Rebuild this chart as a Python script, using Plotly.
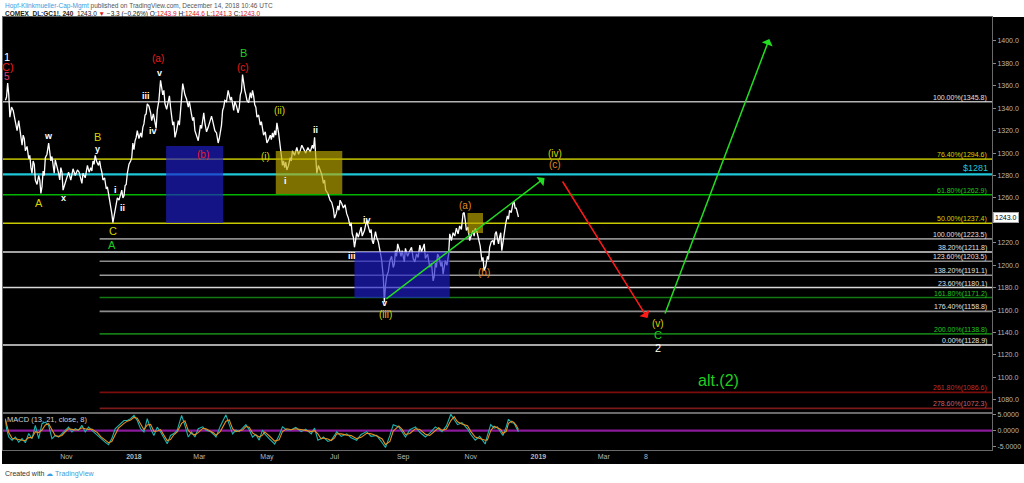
import pandas as pd
import plotly.graph_objects as go

BASE = pd.Timestamp("2017-09-07")

# ---------------- data ----------------
price_day = [0,2,4,7,9,12,14,16,18,21,23,25,27,30,32,34,36,39,41,43,
             45,48,50,52,55,59,61,65,68,70,74,77,79,81,84,86,88,91,93,95,
             96,97,99,101,104,106,108,110,113,115,117,119,122,124,126,128,131,132,135,137,
             140,142,144,147,149,151,153,156,158,160,162,165,167,169,171,174,176,178,180,183,
             185,187,189,192,194,196,198,201,203,205,207,210,212,214,216,218,221,223,225,227,
             230,232,233,236,239,241,243,245,248,250,252,254,257,259,263,266,269,273,277,279,
             281,284,287,289,293,296,297,300,302,305,308,311,313,315,317,320,322,326,329,331,
             333,335,338,341,342,344,347,350,352,354,357,359,361,365,368,371,374,377,379,383,
             386,388,390,393,395,397,400,401,404,407,410,413,414,416,419,422,424,427,430,432,
             435,437,440,442,444,446,448,450,453,455,458,460,461,463]
price_close = [1347.2,1362.4,1332,1338,1325,1329,1311,1316,1302,1295,
               1287,1293,1276,1280,1264,1284,1296,1309,1293,1287,
               1294,1282,1287,1267,1277,1276,1286,1285,1277,1282,
               1289,1287,1293,1298,1289,1287,1276,1268,1264,1253,
               1246,1238,1249,1260,1264,1260,1271,1282,1293,1309,
               1311,1320,1318,1323,1334,1344,1336,1329,1327,1338,
               1365,1352,1344,1347,1341,1325,1314,1329,1336,1362,
               1352,1341,1338,1329,1320,1311,1325,1332,1327,1323,
               1331,1329,1320,1309,1320,1338,1347,1356,1347,1341,
               1346,1336,1352,1370,1356,1347,1354,1356,1343,1332,
               1325,1323,1316,1309,1316,1318,1320,1327,1302,1289,
               1287,1285,1296,1302,1305,1302,1304,1305,1307,1314,
               1282,1285,1273,1267,1258,1250,1242,1253,1258,1251,
               1246,1235,1228,1216,1229,1231,1226,1240,1229,1222,
               1227,1225,1213,1190,1167,1190,1204,1198,1213,1219,
               1208,1207,1215,1213,1206,1210,1218,1216,1206,1198,
               1186,1202,1210,1199,1192,1204,1210,1228,1229,1233,
               1235,1246,1247,1231,1222,1231,1233,1222,1204,1195,
               1208,1216,1222,1228,1224,1225,1213,1231,1244,1249,
               1255,1251,1251,1243]
# intermediate 4h swings read between the points above (day, close)
price_wiggles = [
    (1,1350),(3,1352),(5.5,1341),(8,1333),(10.5,1320),(13,1322),(15,1307),(17,1313),(19.5,1306),(22,1298),
    (24,1282),(26,1290),(28.5,1272),(31,1276),(33,1270),(35,1280),(37.5,1299),(40,1302),(42,1297),(44,1282),
    (46.5,1289),(49,1276),(51,1283),(53.5,1272),(57,1283),(60,1280),(63,1280),(66.5,1283),(69,1273),(72,1278),
    (75.5,1283),(78,1284),(80,1290),(82.5,1292),(85,1293),(87,1283),(89.5,1278),(92,1270),(94,1259),(98,1243),
    (100,1252),(102.5,1258),(105,1267),(107,1262),(109,1272),(111.5,1290),(114,1296),(116,1303),(118,1314),(120.5,1313),
    (123,1314),(125,1326),(127,1335),(129.5,1342),(133.5,1335),(136,1322),(138.5,1347),(141,1356),(143,1356),(145.5,1339),
    (148,1351),(150,1334),(152,1328),(154.5,1320),(157,1325),(159,1345),(161,1357),(163.5,1348),(166,1346),(168,1334),
    (170,1332),(172.5,1316),(175,1318),(177,1322),(179,1336),(181.5,1319),(184,1327),(186,1333),(188,1325),(190.5,1318),
    (193,1313),(195,1325),(197,1341),(199.5,1346),(202,1352),(204,1350),(206,1338),(208.5,1342),(211,1340),(213,1355),
    (215,1362),(217,1352),(219.5,1345),(222,1349),(224,1351),(226,1341),(228.5,1334),(231,1328),(234.5,1319),(237.5,1312),
    (240,1312),(242,1314),(244,1316),(246.5,1318),(249,1298),(251,1293),(253,1292),(255.5,1289),(258,1293),(261,1298),
    (264.5,1299),(267.5,1307),(271,1300),(275,1301),(278,1304),(280,1300),(282.5,1289),(285.5,1281),(288,1276),(291,1264),
    (294.5,1256),(298.5,1246),(301,1249),(303.5,1255),(306.5,1254),(309.5,1242),(312,1238),(314,1225),(316,1222),(318.5,1225),
    (321,1234),(324,1231),(327.5,1233),(330,1232),(332,1219),(334,1230),(336.5,1221),(339.5,1205),(343,1182),(345.5,1194),
    (348.5,1208),(351,1201),(353,1208),(355.5,1214),(358,1213),(360,1203),(363,1208),(366.5,1216),(369.5,1203),(372.5,1207),
    (375.5,1212),(378,1219),(381,1210),(384.5,1202),(387,1190),(389,1198),(391.5,1207),(394,1203),(396,1197),(398.5,1200),
    (402.5,1222),(405.5,1226),(408.5,1228),(411.5,1232),(415,1240),(417.5,1234),(420.5,1227),(423,1226),(425.5,1230),(428.5,1217),
    (431,1207),(433.5,1199),(436,1205),(438.5,1221),(441,1218),(443,1230),(445,1219),(447,1229),(449,1220),(451.5,1237),
    (454,1241),(456.5,1247),(459,1257),(462,1247),
]

macd_day = [0,1,3,6,9,12,15,18,21,24,27,30,33,36,39,42,45,48,51,54,
            57,60,63,66,69,72,75,78,83,86,90,93,96,99,102,107,110,113,116,119,
            122,125,128,131,134,137,140,143,146,149,152,155,159,162,165,168,171,174,178,181,
            185,188,190,194,199,202,205,208,211,214,217,220,223,226,229,232,234,238,243,247,
            250,254,258,262,267,271,276,279,282,285,287,291,294,297,299,303,308,312,317,321,
            326,330,335,340,343,347,350,355,358,361,365,370,374,379,383,388,391,394,398,402,
            405,408,412,417,420,424,428,433,435,438,441,444,447,449,452,454,457,459,461,463]
macd_line = [3.8,0.6,-2,-3,-2,-3.6,-2.5,-3.8,-0.9,-2.5,
             1.7,-2.5,2.2,2.7,1.7,-2.5,-1.5,-2,-0.9,0.1,
             1.1,-0.4,0.6,0.1,1.7,-0.4,1.1,0.1,-1.5,-2.5,
             -3.6,-4.4,-2.5,0.6,1.7,3.2,3.2,3.8,4.8,3.2,
             0.6,-0.4,3.8,0.6,-1.5,1.1,-0.4,-2.5,-4.1,-1.5,
             -0.9,0.1,4.8,1.7,-2,-0.4,-2,0.6,1.2,0.2,
             -0.3,-1.2,-2,1.5,5.0,2.0,-1,0.2,-0.3,0.8,
             1.9,0.3,-2,-1.2,-3,0.2,-1,-2.5,-4.2,-1.5,
             1.2,0.2,0.3,1.0,-0.3,0.5,-1,0.8,-3,-2.5,
             -2,-3.4,-3,-1.5,-0.3,-1.8,-1,-2.2,-3,-1.2,
             -0.3,-1.8,-1.5,-3.8,-5.3,-1.5,1.9,1.2,-0.5,-2,
             0.3,1.2,-0.5,-2,-0.8,1.2,0.5,-0.3,1.5,5.2,
             3.5,1.9,2.5,0.6,-1.2,-3,-1.8,-4.2,-1.5,1.9,
             0.8,1.2,-0.5,-1.5,1.2,3.6,2.5,2.4,1.0,-0.3]
macd_signal = [3.5,2.0,-0.6,-2.4,-2.5,-2.8,-3.0,-3.1,-2.2,-2.2,
               -0.3,-0.6,0.2,1.8,2.2,0.2,-1.6,-1.8,-1.5,-0.4,
               0.6,0.4,0.2,0.3,0.9,0.6,0.4,0.5,-0.6,-1.9,
               -2.9,-3.8,-3.4,-1.2,0.8,2.3,3.0,3.4,4.2,3.9,
               2.0,0.3,1.8,2.0,-0.2,-0.1,0.3,-1.3,-3.1,-2.8,
               -1.3,-0.4,2.3,3.1,0.1,-1.0,-1.3,-0.6,0.7,0.6,
               0.0,-0.7,-1.5,-0.2,3.0,3.4,0.6,-0.3,0.0,0.2,
               1.3,1.1,-0.7,-1.4,-2.0,-1.4,-0.4,-1.6,-3.3,-2.9,
               -0.3,0.6,0.3,0.6,0.4,0.1,-0.3,0.0,-1.0,-2.6,
               -2.3,-2.6,-3.1,-2.3,-1.0,-1.0,-1.4,-1.5,-2.5,-2.1,
               -0.8,-1.0,-1.6,-2.6,-4.4,-3.4,-0.1,1.5,0.4,-1.2,
               -0.9,0.6,0.4,-1.1,-1.5,0.1,0.9,0.1,0.5,3.2,
               4.4,2.8,2.1,1.6,-0.2,-2.0,-2.5,-3.0,-2.9,0.0,
               1.4,1.0,0.4,-0.9,-0.2,2.3,3.0,2.5,1.7,0.4]

# Fibonacci retracement (from left edge) and extension (from Dec 2017)
retr_pct = ["100.00%", "76.40%", "61.80%", "50.00%", "38.20%", "23.60%", "0.00%"]
retr_price = [1345.8, 1294.6, 1262.9, 1237.4, 1211.8, 1180.1, 1128.9]
ext_pct = ["100.00%", "123.60%", "138.20%", "161.80%", "176.40%", "200.00%", "261.80%", "278.60%"]
ext_price = [1223.5, 1203.5, 1191.1, 1171.2, 1158.8, 1138.8, 1086.6, 1072.3]
ext_start_day = 85
key_level = 1281

# zones
zone_day0 = [145, 244, 315, 417]
zone_day1 = [196.5, 304, 401, 431]
zone_lo = [1237.7, 1263.5, 1170.8, 1228.7]
zone_hi = [1306.3, 1301.9, 1211.9, 1246.6]
zone_kind = ["blue", "olive", "blue", "olive"]

# arrows: tail -> head
arrow_day0 = [342.4, 502, 594.8]
arrow_p0 = [1169, 1276, 1155.6]
arrow_day1 = [486.6, 579.5, 689.4]
arrow_p1 = [1277.8, 1152.9, 1401.8]

last_price = 1243.0

tick_dates = ["2017-11-01", "2018-01-01", "2018-03-01", "2018-05-01", "2018-07-01",
              "2018-09-01", "2018-11-01", "2019-01-01", "2019-03-01", "2019-04-08"]
tick_text = ["Nov", "<b>2018</b>", "Mar", "May", "Jul", "Sep", "Nov", "<b>2019</b>", "Mar", "8"]
# 1240.0 is hidden behind the last-price box in the reference
price_ticks = [1080, 1100, 1120, 1140, 1160, 1180, 1200, 1220, 1260,
               1280, 1300, 1320, 1340, 1360, 1380, 1400]

# ---------------- styling ----------------
YEL = "#d4d400"
RED = "#ee1c1c"
ORG = "#e08a22"
GRN = "#22cc22"
WHT = "#ffffff"
PINK = "#e0407a"

wave_labels = [
    ("1", 1.8, 1386, WHT, 11), ("C)", 2.5, 1377, RED, 11), ("5", 1.8, 1368.5, PINK, 10),
    ("A", 30.6, 1255.5, YEL, 11), ("w", 38.8, 1315.3, WHT, 9), ("x", 52.3, 1260, WHT, 9),
    ("B", 82.9, 1314, YEL, 11), ("y", 82.9, 1303.7, WHT, 9),
    ("C", 97.3, 1230.5, YEL, 11), ("A", 96.4, 1218, GRN, 11),
    ("i", 99.1, 1267.1, WHT, 9), ("ii", 105.4, 1251, WHT, 9),
    ("iii", 127, 1351, WHT, 9), ("iv", 133.4, 1319.7, WHT, 9), ("v", 138.8, 1371.5, WHT, 9),
    ("(a)", 137.9, 1384, RED, 10), ("(b)", 178.4, 1299, RED, 10),
    ("B", 214.5, 1389.3, GRN, 11), ("(c)", 214.5, 1376.8, RED, 10),
    ("(ii)", 246.9, 1337.6, YEL, 10), ("(i)", 234.3, 1297.4, YEL, 10),
    ("i", 253.2, 1275.1, WHT, 9), ("ii", 279.4, 1320.6, WHT, 9),
    ("iv", 326.2, 1240.3, WHT, 9), ("iii", 312.7, 1208.2, WHT, 9),
    ("v", 342.4, 1166.3, WHT, 9), ("(iii)", 343.4, 1155.6, YEL, 10),
    ("(a)", 414.6, 1253.7, ORG, 10), ("(b)", 431.7, 1193.1, ORG, 10),
    ("(iv)", 495.6, 1300, YEL, 10), ("(c)", 495.6, 1289.4, ORG, 10),
    ("(v)", 588.5, 1147.6, YEL, 10), ("C", 588.5, 1137.8, GRN, 11), ("2", 588.5, 1126.2, WHT, 11),
    ("alt.(2)", 643.5, 1097.6, GRN, 16),
]

retr_line_col = ["#b4b4b4", "#a8a800", "#00b400", "#c8c800", "#d8d8d8", "#d8d8d8", "#e0e0e0"]
retr_text_col = ["#e0e0e0", "#d4d400", "#22c822", "#d4d400", "#e0e0e0", "#e0e0e0", "#e0e0e0"]
ext_line_col = ["#8c8c8c", "#8c8c8c", "#9a9a9a", "#137a13", "#8c8c8c", "#137a13", "#7a0c0c", "#7a1a1a"]
ext_text_col = ["#e0e0e0", "#e0e0e0", "#e0e0e0", "#22c822", "#e0e0e0", "#22c822", "#c0302a", "#c86070"]


def dt(d):
    return (BASE + pd.Timedelta(days=d)).strftime("%Y-%m-%d %H:%M")


series = sorted(list(zip(price_day, price_close)) + price_wiggles)
all_day = [s[0] for s in series]
all_close = [s[1] for s in series]

X_LEFT, X_RIGHT = -2.2, 890.4
FONT = "Liberation Sans, Arial, sans-serif"

fig = go.Figure()
fig.add_trace(go.Scatter(x=[dt(d) for d in all_day], y=all_close, mode="lines",
                         line=dict(color="#ffffff", width=1.3), hoverinfo="skip",
                         xaxis="x", yaxis="y", showlegend=False))
fig.add_trace(go.Scatter(x=[dt(d) for d in macd_day], y=macd_line, mode="lines",
                         line=dict(color="#1eb4b0", width=1.1), hoverinfo="skip",
                         xaxis="x2", yaxis="y2", showlegend=False))
fig.add_trace(go.Scatter(x=[dt(d) for d in macd_day], y=macd_signal, mode="lines",
                         line=dict(color="#e8901e", width=1.1), hoverinfo="skip",
                         xaxis="x2", yaxis="y2", showlegend=False))

shapes = []
shapes.append(dict(type="rect", xref="paper", yref="paper", x0=-0.001, x1=1.034,
                   y0=-0.0323, y1=1.0, fillcolor="#000000", line=dict(width=0), layer="below"))
for p, c in zip(retr_price, retr_line_col):
    shapes.append(dict(type="line", xref="x", yref="y", x0=dt(X_LEFT), x1=dt(X_RIGHT), y0=p, y1=p,
                       line=dict(color=c, width=1.6), layer="below"))
for p, c in zip(ext_price, ext_line_col):
    shapes.append(dict(type="line", xref="x", yref="y", x0=dt(ext_start_day), x1=dt(X_RIGHT), y0=p, y1=p,
                       line=dict(color=c, width=1.6), layer="below"))
shapes.append(dict(type="line", xref="x", yref="y", x0=dt(X_LEFT), x1=dt(X_RIGHT), y0=key_level, y1=key_level,
                   line=dict(color="#1ec8d8", width=2.4), layer="below"))
for d0, d1, lo, hi, k in zip(zone_day0, zone_day1, zone_lo, zone_hi, zone_kind):
    fill = "rgba(30,30,205,0.66)" if k == "blue" else "rgba(190,170,0,0.66)"
    shapes.append(dict(type="rect", xref="x", yref="y", x0=dt(d0), x1=dt(d1), y0=lo, y1=hi,
                       fillcolor=fill, line=dict(width=0), layer="above"))
shapes.append(dict(type="line", xref="x2", yref="y2", x0=dt(X_LEFT), x1=dt(X_RIGHT), y0=0, y1=0,
                   line=dict(color="#8a1a9a", width=2.2), layer="below"))

ann = []
for t, d, p, c, s in wave_labels:
    txt = f"<b>{t}</b>" if c == WHT and s <= 9 else t
    ann.append(dict(x=dt(d), y=p, xref="x", yref="y", text=txt, showarrow=False,
                    font=dict(color=c, size=s, family=FONT), xanchor="center", yanchor="middle"))
for pct, p, c in zip(retr_pct, retr_price, retr_text_col):
    ann.append(dict(x=0.997, y=p, xref="paper", yref="y", text=f"{pct}({p:.1f})", showarrow=False,
                    font=dict(color=c, size=7, family=FONT), xanchor="right", yanchor="bottom", yshift=-2))
for pct, p, c in zip(ext_pct, ext_price, ext_text_col):
    ann.append(dict(x=0.997, y=p, xref="paper", yref="y", text=f"{pct}({p:.1f})", showarrow=False,
                    font=dict(color=c, size=7, family=FONT), xanchor="right", yanchor="bottom", yshift=-2))
ann.append(dict(x=0.998, y=key_level, xref="paper", yref="y", text=f"${key_level}", showarrow=False,
                font=dict(color="#1ec8d8", size=9, family=FONT), xanchor="right", yanchor="bottom", yshift=-1))
arrow_cols = ["#22dd22", "#ff1a1a", "#22dd22"]
for a0, p0, a1, p1, c in zip(arrow_day0, arrow_p0, arrow_day1, arrow_p1, arrow_cols):
    ann.append(dict(x=dt(a1), y=p1, ax=dt(a0), ay=p0, xref="x", yref="y", axref="x", ayref="y",
                    text="", showarrow=True, arrowhead=1, arrowsize=1.3, arrowwidth=1.5, arrowcolor=c))
ann.append(dict(x=1.0, y=last_price, xref="paper", yref="y", text=f"{last_price:.1f}", showarrow=False,
                font=dict(color="#000000", size=7, family=FONT), xanchor="left", yanchor="middle",
                bgcolor="#ffffff", bordercolor="#aaaaaa", borderpad=1, xshift=1))
ann.append(dict(x=0.002, y=0.0693, xref="paper", yref="paper", text="MACD (13, 21, close, 8)",
                showarrow=False, font=dict(color="#d0d0d0", size=7.5, family=FONT),
                xanchor="left", yanchor="middle"))
ann.append(dict(x=0.0, y=1.0254, xref="paper", yref="paper",
                text='<span style="color:#3d9be0">Hopf-Klinkmueller-Cap-Mgmt</span>'
                     '<span style="color:#555555"> published on TradingView.com, December 14, 2018 10:46 UTC</span>',
                showarrow=False, font=dict(size=6.5, family=FONT), xanchor="left", yanchor="middle"))
ann.append(dict(x=0.0, y=1.0065, xref="paper", yref="paper",
                text='<b>COMEX_DL:GC1!, 240</b>  1243.0 <span style="color:#e02020">▼</span> −3.3 (−0.26%) '
                     'O:<span style="color:#e02020">1243.9</span> H:<span style="color:#e02020">1244.6</span> '
                     'L:<span style="color:#e02020">1241.3</span> C:<span style="color:#e02020">1243.0</span>',
                showarrow=False, font=dict(size=6.5, family=FONT, color="#222222"),
                xanchor="left", yanchor="middle"))
ann.append(dict(x=0.0, y=-0.055, xref="paper", yref="paper",
                text='Created with <span style="color:#3d9be0">☁ TradingView</span>',
                showarrow=False, font=dict(size=7, family=FONT, color="#333333"),
                xanchor="left", yanchor="middle"))

axis_line = "#6a6a6a"
fig.update_layout(
    width=1024, height=483,
    margin=dict(l=3, r=32, t=17, b=33),
    paper_bgcolor="#ffffff", plot_bgcolor="#000000",
    showlegend=False,
    shapes=shapes, annotations=ann,
    xaxis=dict(type="date", domain=[0, 1], anchor="y", range=[dt(X_LEFT), dt(X_RIGHT)],
               showticklabels=False, showgrid=False, zeroline=False,
               showline=True, mirror=True, linecolor=axis_line, linewidth=1),
    yaxis=dict(domain=[0.0855, 1], range=[1068.2, 1421.4], side="right", tickvals=price_ticks,
               tickformat=".1f", ticks="outside", ticklen=3, tickcolor="#888888",
               tickfont=dict(size=7, color="#b8b8b8", family=FONT), showgrid=False, zeroline=False,
               showline=True, mirror=True, linecolor=axis_line, linewidth=1),
    xaxis2=dict(type="date", domain=[0, 1], anchor="y2", matches="x", range=[dt(X_LEFT), dt(X_RIGHT)],
                tickvals=tick_dates, ticktext=tick_text, ticks="", showgrid=False, zeroline=False,
                tickfont=dict(size=7, color="#b8b8b8", family=FONT),
                showline=True, mirror=True, linecolor=axis_line, linewidth=1),
    yaxis2=dict(domain=[0, 0.0855], range=[-6.09, 5.58], side="right", tickvals=[-5, 0, 5],
                ticktext=["-5.0000", "0.0000", "5.0000"], ticks="outside", ticklen=3, tickcolor="#888888",
                tickfont=dict(size=7, color="#b8b8b8", family=FONT), showgrid=False, zeroline=False,
                showline=True, mirror=True, linecolor=axis_line, linewidth=1),
)

fig.write_html("out.html", config={"displayModeBar": False},
               post_script="document.body.style.margin='0';document.body.style.padding='0';"
                           "document.body.style.overflow='hidden';")
